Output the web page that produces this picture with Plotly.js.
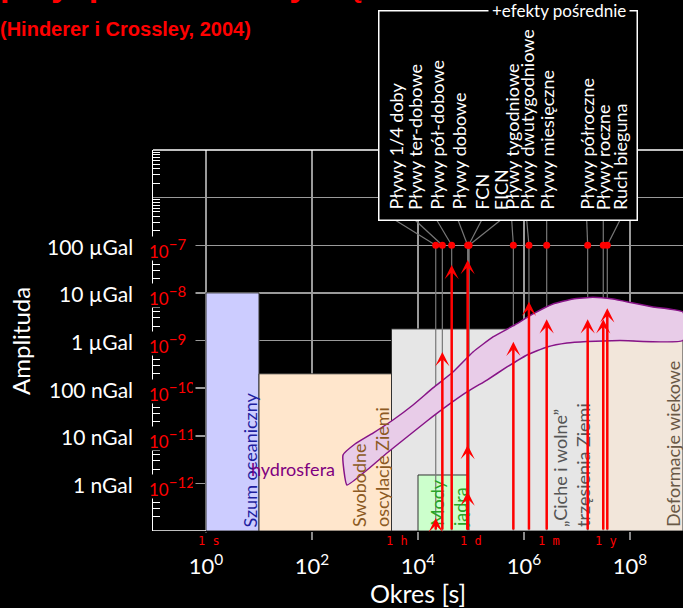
<!DOCTYPE html>
<html>
<head>
<meta charset="utf-8">
<script src="https://cdn.plot.ly/plotly-3.0.1.min.js"></script>
<style>
  html, body { margin: 0; padding: 0; background: #000; }
  #chart { width: 683px; height: 608px; }
</style>
</head>
<body>
<div id="chart"></div>
<script>
// ---------- data ----------
// amplitude decades (m/s^2) and their labels
const ampDecades = [1e-12, 1e-11, 1e-10, 1e-9, 1e-8, 1e-7];
const ampGalText = ['1 nGal', '10 nGal', '100 nGal', '1 µGal', '10 µGal', '100 µGal'];
const ampExpText = ['−12', '−11', '−10', '−9', '−8', '−7'];

// period axis ticks (s)
const periodTickVals = [1, 1e2, 1e4, 1e6, 1e8];
const periodTickText = ['10<sup>0</sup>', '10<sup>2</sup>', '10<sup>4</sup>', '10<sup>6</sup>', '10<sup>8</sup>'];

// reference time units (s)
const timeUnitPeriod = [1, 3600, 86400, 2.63e6, 3.156e7];
const timeUnitText = ['1 s', '1 h', '1 d', '1 m', '1 y'];

// spectral regions
const regionName = ['Szum oceaniczny', 'Swobodne<br>oscylacje Ziemi', '„Ciche i wolne”<br>trzęsienia Ziemi', 'Deformacje wiekowe', 'Mody<br>jądra'];
const regionPeriodFrom = [1, 10, 3162, 1.585e7, 1e4];
const regionPeriodTo = [10, 3162, 1.585e7, 1e9, 86400];
const regionAmpTop = [1e-8, 2e-10, 1.75e-9, 1e-9, 1.5e-12];
const regionAmpBottom = [1e-13, 1e-13, 1e-13, 1e-13, 1e-13];

// hydrosphere band: upper and lower envelope
const hydroTopPeriod = [385, 647, 1416, 3373, 8054, 1.92e4, 4.57e4, 1.09e5, 2.60e5, 6.19e5, 1.48e6, 3.52e6, 8.41e6, 2.00e7, 4.78e7, 1.14e8, 2.72e8, 1e9];
const hydroTopAmp = [3.94e-12, 6.71e-12, 1.14e-11, 2.14e-11, 4.43e-11, 1.01e-10, 2.18e-10, 5.74e-10, 1.19e-9, 2.02e-9, 3.61e-9, 5.83e-9, 7.43e-9, 8.07e-9, 7.43e-9, 6.12e-9, 5.05e-9, 3.96e-9];
const hydroBottomPeriod = [457, 1091, 2600, 6194, 1.48e4, 3.52e4, 8.41e4, 2.00e5, 4.78e5, 1.14e6, 2.72e6, 6.47e6, 1.55e7, 6.47e7, 1e9];
const hydroBottomAmp = [9.25e-13, 1.91e-12, 4.35e-12, 9.42e-12, 2.04e-11, 4.22e-11, 8.30e-11, 1.48e-10, 2.78e-10, 4.97e-10, 7.31e-10, 8.87e-10, 9.53e-10, 1.0e-9, 1.0e-9];

// tides and other periodic signals (period in s)
const tideName = ['Pływy 1/4 doby', 'Pływy ter-dobowe', 'Pływy pół-dobowe', 'Pływy dobowe', 'FCN', 'FICN',
  'Pływy tygodniowe', 'Pływy dwutygodniowe', 'Pływy miesięczne', 'Pływy półroczne', 'Pływy roczne', 'Ruch bieguna'];
const tidePeriod = [21600, 28800, 43200, 86400, 90000, 92000, 6.3e5, 1.24e6, 2.68e6, 1.59e7, 3.13e7, 3.73e7];
const tideMarkAmp = [1e-7, 1e-7, 1e-7, 1e-7, 1e-7, 1e-7, 1e-7, 1e-7, 1e-7, 1e-7, 1e-7, 1e-7];

// signal amplitudes drawn as arrows
const arrowPeriod = [21600, 28800, 43200, 86400, 86400, 86400, 6.3e5, 1.24e6, 2.68e6, 1.59e7, 3.13e7, 3.73e7];
const arrowAmp = [1.87e-13, 5.74e-10, 3.85e-8, 4.90e-8, 6.40e-12, 6.74e-13, 9.44e-10, 6.53e-9, 2.79e-9, 2.79e-9, 2.79e-9, 4.74e-9];

// ---------- styling / layout helpers ----------
const W = 683, H = 608;
const M = { l: 153, r: 0, t: 150, b: 77 };
const PW = W - M.l - M.r, PH = H - M.t - M.b;
const px2paperX = p => (p - M.l) / PW;
const px2paperY = p => (H - M.b - p) / PH;
const lg = Math.log10;

const RED = '#ff0000';
const GRID = '#9a9a9a';
const SANS = 'Lato, "DejaVu Sans", sans-serif';

const regionFill = ['rgb(204,204,255)', 'rgb(255,230,204)', 'rgb(230,230,230)', 'rgb(242,230,218)', 'rgb(204,255,204)'];
const regionTextColor = ['rgb(30,30,160)', 'rgb(140,90,35)', 'rgb(85,85,85)', 'rgb(105,88,70)', 'rgb(40,165,40)'];
const regionLabelLogX = [0.83, 3.094, 6.887, 8.811, 4.566];
const tideLabelLogX = [3.566, 3.943, 4.353, 4.755, 5.202, 5.560, 5.768, 6.051, 6.428, 7.183, 7.496, 7.811];
const labelBoxBottomPx = 220;
const labelBoxBottomAmp = Math.pow(10, -5 - (labelBoxBottomPx - M.t) / (PH / 8));

// ---------- traces ----------
const traces = [];

// thin grey leader lines: label -> marker -> down to the axis
const lx = [], ly = [];
tidePeriod.forEach((p, i) => {
  lx.push(Math.pow(10, tideLabelLogX[i]), p, null);
  ly.push(labelBoxBottomAmp, tideMarkAmp[i], null);
  lx.push(p, p, null);
  ly.push(tideMarkAmp[i], 1e-13, null);
});
traces.push({ x: lx, y: ly, mode: 'lines', line: { color: 'rgb(120,120,120)', width: 1.2 }, hoverinfo: 'skip', showlegend: false });

// hydrosphere band
const bandX = hydroTopPeriod.concat(hydroBottomPeriod.slice().reverse(), [hydroTopPeriod[0]]);
const bandY = hydroTopAmp.concat(hydroBottomAmp.slice().reverse(), [hydroTopAmp[0]]);
traces.push({ x: bandX, y: bandY, mode: 'lines', fill: 'toself', fillcolor: 'rgb(232,204,232)',
  line: { color: 'rgb(135,20,135)', width: 1.5, shape: 'spline', smoothing: 0.4 }, hoverinfo: 'skip', showlegend: false });

// tide markers
traces.push({ x: tidePeriod, y: tideMarkAmp, mode: 'markers', marker: { color: RED, size: 7 }, hoverinfo: 'skip', showlegend: false });

// ---------- shapes ----------
const shapes = [];
// top frame line
shapes.push({ type: 'line', xref: 'paper', yref: 'paper', x0: 0, x1: 1, y0: 1, y1: 1, line: { color: 'white', width: 1.5 }, layer: 'above' });
// bottom axis segment left of the regions
shapes.push({ type: 'line', xref: 'paper', yref: 'y', x0: 0, x1: px2paperX(206), y0: 1e-13, y1: 1e-13, line: { color: 'white', width: 1.5 }, layer: 'above' });
regionName.forEach((n, i) => {
  shapes.push({ type: 'rect', xref: 'x', yref: 'y', x0: regionPeriodFrom[i], x1: regionPeriodTo[i],
    y0: regionAmpBottom[i], y1: regionAmpTop[i], fillcolor: regionFill[i],
    line: { color: 'rgb(50,50,50)', width: 1 }, layer: 'between' });
});

// ---------- annotations ----------
const ann = [];
// slide title (partly above the page)
ann.push({ xref: 'paper', yref: 'paper', x: px2paperX(-2), y: px2paperY(5), xanchor: 'left', yanchor: 'bottom',
  text: '<b>przyspieszenia siły ciężkości</b>', showarrow: false,
  font: { family: '"Liberation Sans", Arial, sans-serif', size: 34, color: RED } });
ann.push({ xref: 'paper', yref: 'paper', x: px2paperX(-2), y: px2paperY(29), xanchor: 'left', yanchor: 'middle',
  text: '<b>(Hinderer i Crossley, 2004)</b>', showarrow: false,
  font: { family: '"Liberation Sans", Arial, sans-serif', size: 20, color: RED } });

// axis titles
ann.push({ xref: 'paper', yref: 'paper', x: px2paperX(20), y: px2paperY(341), xanchor: 'center', yanchor: 'middle', textangle: -90,
  text: 'Amplituda', showarrow: false, font: { family: SANS, size: 24, color: 'white' } });
ann.push({ xref: 'paper', yref: 'paper', x: px2paperX(418), y: px2paperY(593), xanchor: 'center', yanchor: 'middle',
  text: 'Okres [s]', showarrow: false, font: { family: SANS, size: 25, color: 'white' } });

// amplitude labels
ampDecades.forEach((v, i) => {
  ann.push({ xref: 'paper', yref: 'y', x: px2paperX(135), y: lg(v), xanchor: 'right', yanchor: 'middle', yshift: -1,
    text: ampGalText[i], showarrow: false, font: { family: SANS, size: 21, color: 'white' } });
  ann.push({ xref: 'paper', yref: 'y', x: px2paperX(146), y: lg(v), xanchor: 'left', yanchor: 'middle', yshift: -3,
    width: 44, height: 19, align: 'left', borderpad: 2, bgcolor: 'black',
    text: '10<sup><span style="font-size:15px">' + ampExpText[i] + '</span></sup>', showarrow: false,
    font: { family: SANS, size: 17, color: RED } });
});

// time unit marks under the axis
timeUnitPeriod.forEach((p, i) => {
  ann.push({ xref: 'x', yref: 'paper', x: lg(p), y: px2paperY(541), xshift: 3, xanchor: 'center', yanchor: 'middle',
    text: timeUnitText[i], showarrow: false, bgcolor: 'black', borderpad: 1,
    font: { family: '"DejaVu Sans Mono", monospace', size: 12, color: RED } });
});

// region labels
regionName.forEach((n, i) => {
  ann.push({ xref: 'x', yref: 'paper', x: regionLabelLogX[i], y: px2paperY(529), xanchor: 'center', yanchor: 'bottom',
    textangle: -90, align: 'left', text: n, showarrow: false, font: { family: SANS, size: 18, color: regionTextColor[i] } });
});
ann.push({ xref: 'x', yref: 'y', x: 1.632, y: -11.698, xanchor: 'center', yanchor: 'middle', text: 'hydrosfera', showarrow: false,
  font: { family: SANS, size: 18, color: 'rgb(128,0,128)' } });

// amplitude arrows
arrowPeriod.forEach((p, i) => {
  ann.push({ xref: 'x', yref: 'y', axref: 'x', ayref: 'y', x: lg(p), y: lg(arrowAmp[i]), ax: lg(p), ay: -13,
    text: '', showarrow: true, arrowhead: 3, arrowsize: 0.95, arrowwidth: 2.5, arrowcolor: RED, standoff: 0, startstandoff: 0 });
});

// label box for periodic signals
ann.push({ xref: 'paper', yref: 'paper', x: px2paperX(378), y: px2paperY(10), xanchor: 'left', yanchor: 'top',
  text: ' ', width: 257, height: 208, borderpad: 0, borderwidth: 1.5, bordercolor: 'white', bgcolor: 'black', showarrow: false });
ann.push({ xref: 'paper', yref: 'paper', x: px2paperX(559), y: px2paperY(11), xanchor: 'center', yanchor: 'middle',
  text: '+efekty pośrednie', showarrow: false, bgcolor: 'black', borderpad: 3,
  font: { family: SANS, size: 17, color: 'white' } });
tideName.forEach((n, i) => {
  ann.push({ xref: 'x', yref: 'paper', x: tideLabelLogX[i], y: px2paperY(212), xanchor: 'center', yanchor: 'bottom',
    textangle: -90, text: n, showarrow: false, font: { family: SANS, size: 18, color: 'white' } });
});

// ---------- layout ----------
const layout = {
  width: W, height: H,
  margin: M,
  paper_bgcolor: 'black', plot_bgcolor: 'black',
  showlegend: false,
  xaxis: {
    type: 'log', range: [-1, 9], tickmode: 'array', tickvals: periodTickVals, ticktext: periodTickText,
    ticks: 'outside', ticklen: 8, tickwidth: 1.5, tickcolor: '#888', ticklabelstandoff: 8,
    tickfont: { family: SANS, size: 22, color: 'white' },
    showgrid: true, gridcolor: GRID, gridwidth: 1.5, zeroline: false, showline: false, fixedrange: true
  },
  yaxis: {
    type: 'log', range: [-13, -5], dtick: 1, tick0: 0, showticklabels: false, ticks: '',
    showline: true, linecolor: 'white', linewidth: 1.5,
    minor: { ticks: 'inside', ticklen: 7, tickwidth: 1, tickcolor: 'white', dtick: 'D1', showgrid: false },
    showgrid: true, gridcolor: GRID, gridwidth: 1.5, zeroline: false, fixedrange: true
  },
  shapes: shapes,
  annotations: ann
};

Plotly.newPlot('chart', traces, layout, { staticPlot: true, displayModeBar: false });
</script>
</body>
</html>
